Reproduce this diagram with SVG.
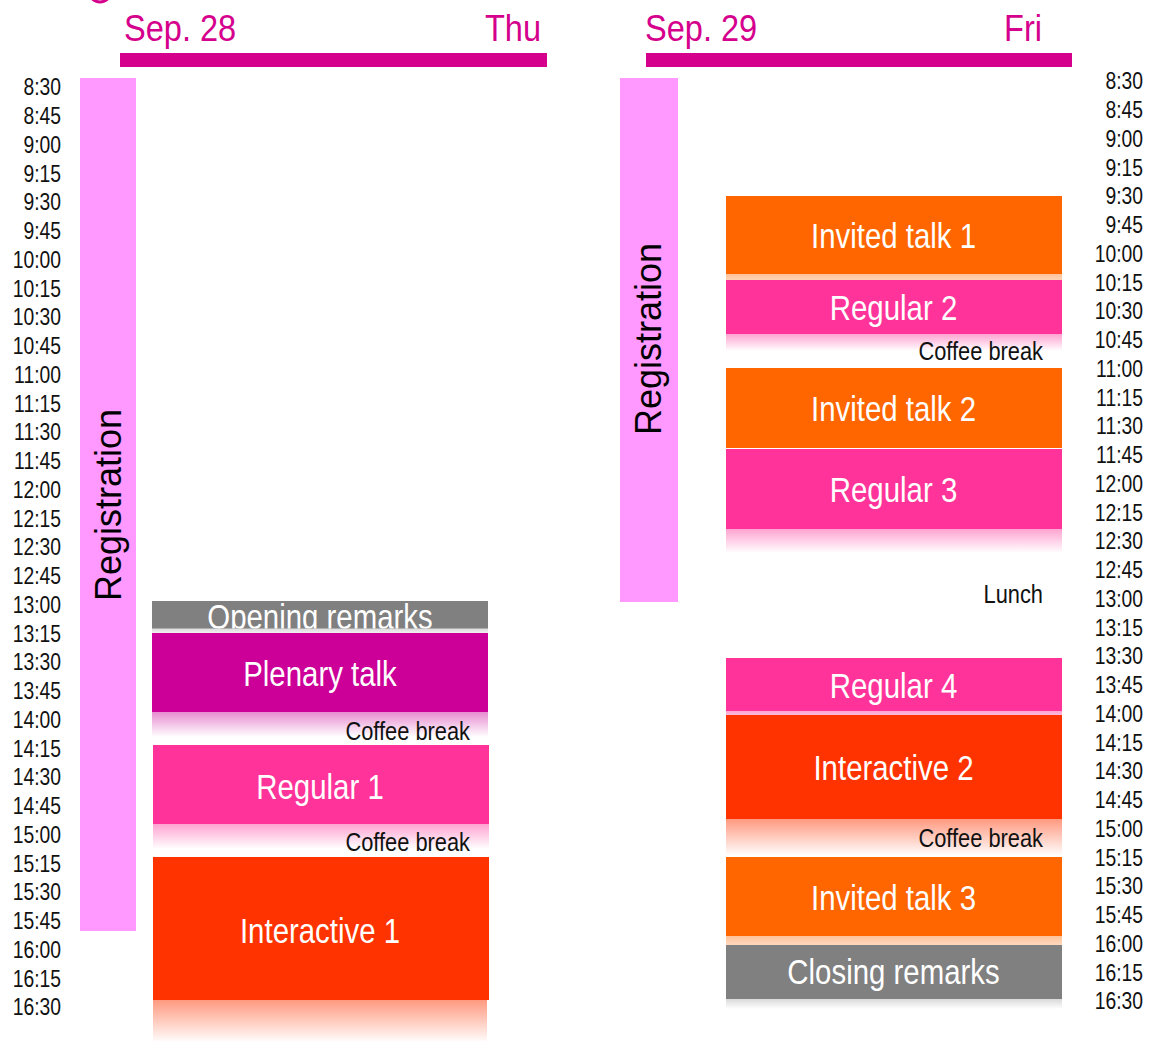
<svg xmlns="http://www.w3.org/2000/svg" width="1151" height="1041" viewBox="0 0 1151 1041">
<style>
text{font-family:"Liberation Sans",Arial,sans-serif}
.time{font-size:23px;fill:#111;text-anchor:end}
.hdr{font-size:37px;fill:#D5008C}
.lbl{font-size:35px;fill:#fff;text-anchor:middle}
.brk{font-size:26px;fill:#111;text-anchor:end}
.reg{font-size:36px;fill:#000;text-anchor:middle}
.bar{fill:#D5008C}
.regbox{fill:#FF99FF}
</style>
<defs>
<linearGradient id="rfPlen" x1="0" y1="0" x2="0" y2="1"><stop offset="0" stop-color="#CC0099" stop-opacity="0.45"/><stop offset="1" stop-color="#CC0099" stop-opacity="0"/></linearGradient>
<linearGradient id="rfReg" x1="0" y1="0" x2="0" y2="1"><stop offset="0" stop-color="#FF3399" stop-opacity="0.45"/><stop offset="1" stop-color="#FF3399" stop-opacity="0"/></linearGradient>
<linearGradient id="rfInt" x1="0" y1="0" x2="0" y2="1"><stop offset="0" stop-color="#FF3300" stop-opacity="0.5"/><stop offset="1" stop-color="#FF3300" stop-opacity="0"/></linearGradient>
<linearGradient id="rfInv" x1="0" y1="0" x2="0" y2="1"><stop offset="0" stop-color="#FF6600" stop-opacity="0.4"/><stop offset="1" stop-color="#FF6600" stop-opacity="0"/></linearGradient>
<linearGradient id="rfGray" x1="0" y1="0" x2="0" y2="1"><stop offset="0" stop-color="#808080" stop-opacity="0.3"/><stop offset="1" stop-color="#808080" stop-opacity="0"/></linearGradient>
<clipPath id="clipOpen"><rect x="152" y="601" width="336" height="27.5"/></clipPath>
</defs>

<circle cx="100" cy="-9" r="11" fill="none" stroke="#D5008C" stroke-width="3"/>

<g id="header-thu">
<text class="hdr" transform="translate(124 41) scale(0.88 1)">Sep. 28</text>
<text class="hdr" transform="translate(541 41) scale(0.88 1)" text-anchor="end">Thu</text>
<rect class="bar" x="120" y="53" width="427" height="14"/>
</g>
<g id="header-fri">
<text class="hdr" transform="translate(645 41) scale(0.88 1)">Sep. 29</text>
<text class="hdr" transform="translate(1042 41) scale(0.88 1)" text-anchor="end">Fri</text>
<rect class="bar" x="646" y="53" width="426" height="14"/>
</g>

<g id="times-left" transform="scale(0.84 1)">
<text class="time" x="72.6" y="95.3">8:30</text>
<text class="time" x="72.6" y="124.05">8:45</text>
<text class="time" x="72.6" y="152.8">9:00</text>
<text class="time" x="72.6" y="181.55">9:15</text>
<text class="time" x="72.6" y="210.3">9:30</text>
<text class="time" x="72.6" y="239.05">9:45</text>
<text class="time" x="72.6" y="267.8">10:00</text>
<text class="time" x="72.6" y="296.55">10:15</text>
<text class="time" x="72.6" y="325.3">10:30</text>
<text class="time" x="72.6" y="354.05">10:45</text>
<text class="time" x="72.6" y="382.8">11:00</text>
<text class="time" x="72.6" y="411.55">11:15</text>
<text class="time" x="72.6" y="440.3">11:30</text>
<text class="time" x="72.6" y="469.05">11:45</text>
<text class="time" x="72.6" y="497.8">12:00</text>
<text class="time" x="72.6" y="526.55">12:15</text>
<text class="time" x="72.6" y="555.3">12:30</text>
<text class="time" x="72.6" y="584.05">12:45</text>
<text class="time" x="72.6" y="612.8">13:00</text>
<text class="time" x="72.6" y="641.55">13:15</text>
<text class="time" x="72.6" y="670.3">13:30</text>
<text class="time" x="72.6" y="699.05">13:45</text>
<text class="time" x="72.6" y="727.8">14:00</text>
<text class="time" x="72.6" y="756.55">14:15</text>
<text class="time" x="72.6" y="785.3">14:30</text>
<text class="time" x="72.6" y="814.05">14:45</text>
<text class="time" x="72.6" y="842.8">15:00</text>
<text class="time" x="72.6" y="871.55">15:15</text>
<text class="time" x="72.6" y="900.3">15:30</text>
<text class="time" x="72.6" y="929.05">15:45</text>
<text class="time" x="72.6" y="957.8">16:00</text>
<text class="time" x="72.6" y="986.55">16:15</text>
<text class="time" x="72.6" y="1015.3">16:30</text>
</g>

<g id="times-right" transform="scale(0.84 1)">
<text class="time" x="1360.7" y="89.3">8:30</text>
<text class="time" x="1360.7" y="118.05">8:45</text>
<text class="time" x="1360.7" y="146.8">9:00</text>
<text class="time" x="1360.7" y="175.55">9:15</text>
<text class="time" x="1360.7" y="204.3">9:30</text>
<text class="time" x="1360.7" y="233.05">9:45</text>
<text class="time" x="1360.7" y="261.8">10:00</text>
<text class="time" x="1360.7" y="290.55">10:15</text>
<text class="time" x="1360.7" y="319.3">10:30</text>
<text class="time" x="1360.7" y="348.05">10:45</text>
<text class="time" x="1360.7" y="376.8">11:00</text>
<text class="time" x="1360.7" y="405.55">11:15</text>
<text class="time" x="1360.7" y="434.3">11:30</text>
<text class="time" x="1360.7" y="463.05">11:45</text>
<text class="time" x="1360.7" y="491.8">12:00</text>
<text class="time" x="1360.7" y="520.55">12:15</text>
<text class="time" x="1360.7" y="549.3">12:30</text>
<text class="time" x="1360.7" y="578.05">12:45</text>
<text class="time" x="1360.7" y="606.8">13:00</text>
<text class="time" x="1360.7" y="635.55">13:15</text>
<text class="time" x="1360.7" y="664.3">13:30</text>
<text class="time" x="1360.7" y="693.05">13:45</text>
<text class="time" x="1360.7" y="721.8">14:00</text>
<text class="time" x="1360.7" y="750.55">14:15</text>
<text class="time" x="1360.7" y="779.3">14:30</text>
<text class="time" x="1360.7" y="808.05">14:45</text>
<text class="time" x="1360.7" y="836.8">15:00</text>
<text class="time" x="1360.7" y="865.55">15:15</text>
<text class="time" x="1360.7" y="894.3">15:30</text>
<text class="time" x="1360.7" y="923.05">15:45</text>
<text class="time" x="1360.7" y="951.8">16:00</text>
<text class="time" x="1360.7" y="980.55">16:15</text>
<text class="time" x="1360.7" y="1009.3">16:30</text>
</g>

<g id="reflections">
<rect x="152" y="628" width="336" height="8" fill="url(#rfGray)"/>
<rect x="152" y="712" width="336" height="25" fill="url(#rfPlen)"/>
<rect x="153" y="824" width="336" height="25" fill="url(#rfReg)"/>
<rect x="153" y="1000" width="334" height="43" fill="url(#rfInt)"/>
<rect x="726" y="274" width="336" height="24" fill="url(#rfInv)"/>
<rect x="726" y="334" width="336" height="17" fill="url(#rfReg)"/>
<rect x="726" y="529" width="336" height="24" fill="url(#rfReg)"/>
<rect x="726" y="711" width="336" height="16" fill="url(#rfReg)"/>
<rect x="726" y="819" width="336" height="37" fill="url(#rfInt)"/>
<rect x="726" y="936" width="336" height="24" fill="url(#rfInv)"/>
<rect x="726" y="999" width="336" height="10" fill="url(#rfGray)"/>
</g>

<g id="registration-thu">
<rect class="regbox" x="80" y="78" width="56" height="853"/>
<text class="reg" transform="translate(121 505) rotate(-90)">Registration</text>
</g>
<g id="registration-fri">
<rect class="regbox" x="620" y="78" width="58" height="524"/>
<text class="reg" transform="translate(661 339) rotate(-90)">Registration</text>
</g>

<g id="opening-remarks">
<rect x="152" y="601" width="336" height="27.5" fill="#808080"/>
<g clip-path="url(#clipOpen)"><text class="lbl" transform="translate(320 629) scale(0.84 1)">Opening remarks</text></g>
</g>
<g id="plenary-talk">
<rect x="152" y="633" width="336" height="79" fill="#CC0099"/>
<text class="lbl" transform="translate(320 686) scale(0.84 1)">Plenary talk</text>
</g>
<g id="coffee-break-1">
<text class="brk" transform="translate(470 740) scale(0.84 1)">Coffee break</text>
</g>
<g id="regular-1">
<rect x="153" y="745" width="336" height="79" fill="#FF3399"/>
<text class="lbl" transform="translate(320 799) scale(0.84 1)">Regular 1</text>
</g>
<g id="coffee-break-2">
<text class="brk" transform="translate(470 851) scale(0.84 1)">Coffee break</text>
</g>
<g id="interactive-1">
<rect x="153" y="857" width="336" height="143" fill="#FF3300"/>
<text class="lbl" transform="translate(320 943) scale(0.84 1)">Interactive 1</text>
</g>

<g id="invited-talk-1">
<rect x="726" y="196" width="336" height="78" fill="#FF6600"/>
<text class="lbl" transform="translate(893.5 248) scale(0.84 1)">Invited talk 1</text>
</g>
<g id="regular-2">
<rect x="726" y="280" width="336" height="54" fill="#FF3399"/>
<text class="lbl" transform="translate(893.5 320) scale(0.84 1)">Regular 2</text>
</g>
<g id="coffee-break-3">
<text class="brk" transform="translate(1043 360) scale(0.84 1)">Coffee break</text>
</g>
<g id="invited-talk-2">
<rect x="726" y="368" width="336" height="80" fill="#FF6600"/>
<text class="lbl" transform="translate(893.5 421) scale(0.84 1)">Invited talk 2</text>
</g>
<g id="regular-3">
<rect x="726" y="449" width="336" height="80" fill="#FF3399"/>
<text class="lbl" transform="translate(893.5 502) scale(0.84 1)">Regular 3</text>
</g>
<g id="lunch">
<text class="brk" transform="translate(1043 603) scale(0.84 1)">Lunch</text>
</g>
<g id="regular-4">
<rect x="726" y="658" width="336" height="53" fill="#FF3399"/>
<text class="lbl" transform="translate(893.5 698) scale(0.84 1)">Regular 4</text>
</g>
<g id="interactive-2">
<rect x="726" y="715" width="336" height="104" fill="#FF3300"/>
<text class="lbl" transform="translate(893.5 780) scale(0.84 1)">Interactive 2</text>
</g>
<g id="coffee-break-4">
<text class="brk" transform="translate(1043 847) scale(0.84 1)">Coffee break</text>
</g>
<g id="invited-talk-3">
<rect x="726" y="857" width="336" height="79" fill="#FF6600"/>
<text class="lbl" transform="translate(893.5 910) scale(0.84 1)">Invited talk 3</text>
</g>
<g id="closing-remarks">
<rect x="726" y="945" width="336" height="54" fill="#808080"/>
<text class="lbl" transform="translate(893.5 984) scale(0.84 1)">Closing remarks</text>
</g>

<g id="connectors"/>
</svg>
